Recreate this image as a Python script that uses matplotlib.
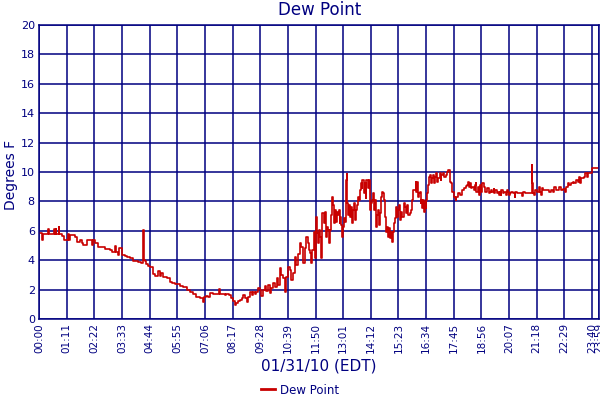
import matplotlib
matplotlib.use("Agg")
import matplotlib.pyplot as plt
from matplotlib.lines import Line2D

# time of day in minutes after midnight, dew point in degrees F
minutes = [
    0, 7, 10, 23, 24, 25, 38, 39, 42, 43, 44, 50, 51, 52, 58, 65, 71, 75, 76, 80, 84, 92, 97, 101, 105,
    110, 114, 120, 122, 133, 135, 139, 144, 148, 152, 156, 165, 169, 182, 188, 195, 199, 203, 206,
    210, 214, 221, 227, 233, 242, 255, 263, 267, 268, 270, 272, 276, 280, 285, 293, 298, 306, 310,
    314, 319, 323, 328, 336, 342, 349, 362, 370, 379, 387, 396, 404, 413, 420, 423, 430, 434, 439,
    447, 460, 462, 464, 469, 477, 481, 488, 492, 498, 503, 507, 511, 516, 520, 524, 528, 533, 537,
    541, 546, 550, 554, 558, 562, 567, 571, 575, 580, 584, 588, 592, 597, 601, 605, 610, 614, 618,
    622, 627, 631, 635, 639, 644, 648, 652, 657, 661, 665,
    669.5, 673.8, 678, 682.3, 684.9, 686.6, 690.9, 693.4, 695.2, 699.4, 702, 705.4, 708, 710.5, 712.3,
    714.8, 716.5, 719, 722.5, 725, 727.6, 731, 733.6, 736.2, 739.6, 742.2, 744.7, 746.5, 750.7, 753.3,
    755, 757.6, 759.3, 761.8, 765.3, 767.8, 770.4, 772.1, 773.8, 776.4, 778.9, 780.7, 782.4, 784.9,
    787.5, 790, 791.8, 794.3, 796, 799.5, 802, 804.6, 806.3, 808.9, 810.6, 813.1, 816.6, 819.1, 821.7,
    823.4, 826, 828.5, 830.2, 833.7, 836.2, 838.8, 840.5, 844.8, 847.3, 850.8, 853.3, 855.9, 857.6,
    859.3, 861.9, 864.4, 867.9, 870.4, 873, 876.4, 879, 881.5, 883.3, 885.8, 887.5, 890.1, 891.8,
    893.5, 896.1, 898.6, 902, 904.6, 907.2, 908.9, 911.5, 913.2, 915.7, 919.2, 921.7, 924.3, 927.7,
    930.3, 932.8, 936.3, 938.8, 941.4, 944.8, 947.4,
    951.6, 955.9, 958.4, 960.2, 964.4, 967, 968.7, 970.4, 973, 975.5, 977.3, 979.8, 981.5, 984.1,
    985.8, 987.5, 990, 992.6, 994.4, 996, 998.6, 1001.2, 1002.9, 1005.5, 1008, 1011.4, 1013.2, 1015.7,
    1018.3, 1021.7, 1024.3, 1028.6, 1031.1, 1032.8, 1037.1, 1039.7, 1044, 1047.4, 1049.9, 1054.2,
    1055.9, 1058.5, 1061, 1064.5, 1067, 1069.6, 1071.3, 1075.6, 1079.9, 1084.1, 1086.7, 1090.1,
    1095.2, 1098.7, 1101.2, 1103.8, 1107.2, 1109.8, 1112.3, 1115.8, 1118.3, 1120.9, 1122.6, 1126.9,
    1129.4, 1131.2, 1135.4, 1138, 1141.4, 1144, 1146.5, 1150, 1155.1, 1158.5, 1161.1, 1163.6, 1167.1,
    1169.6, 1172.2, 1175.6, 1178.2, 1180.7,
    1182.5, 1185.1, 1187.6, 1191, 1195.3, 1197.9, 1201.3, 1203.9, 1206.4, 1209.9, 1212.4, 1216.7,
    1221, 1223.5, 1227, 1232.1, 1235.5, 1240.6, 1244.1, 1249.2, 1255.2, 1259.5, 1263.7, 1265.4,
    1267.1, 1268, 1272.3, 1274.8, 1278.3, 1283.4, 1286.8, 1289.4, 1291.9, 1295.4, 1302.2, 1309,
    1315, 1319.3, 1321.9, 1327.9, 1334.7, 1340.7, 1346.7, 1350.1, 1353.5, 1357.8, 1362, 1366.3,
    1370.6, 1374.9, 1379.2, 1383.4, 1386, 1389.4, 1392, 1396.3, 1400.5, 1403.1, 1406.5, 1409.1,
    1417.6, 1420.2, 1439,
]
dew_point = [
    5.85, 5.4, 5.75, 5.75, 6.15, 5.75, 5.75, 6.15, 5.75, 6.15, 5.75, 5.75, 6.25, 5.75, 5.65, 5.35, 5.35, 5.75, 5.35, 5.7, 5.7, 5.6, 5.25, 5.25, 5.4,
    5.15, 5.05, 5.05, 5.4, 5.4, 5.05, 5.4, 5.15, 5.15, 4.92, 4.87, 4.87, 4.76, 4.69, 4.58, 4.97, 4.58, 4.35, 4.8,
    4.8, 4.35, 4.31, 4.24, 4.13, 3.97, 3.9, 3.83, 3.83, 6.05, 4.01, 3.97, 3.74, 3.63, 3.51, 3.04, 2.95, 3.26, 2.95,
    3.1, 2.88, 2.85, 2.77, 2.54, 2.43, 2.36, 2.24, 2.2, 1.97, 1.81, 1.68, 1.52, 1.41, 1.18, 1.52, 1.59, 1.52, 1.75,
    1.7, 1.7, 2.02, 1.7, 1.7, 1.63, 1.68, 1.63, 1.41, 1.22, 0.95, 1.06, 1.22, 1.29, 1.41, 1.63, 1.41, 1.13, 1.52,
    1.86, 1.63, 1.81, 1.68, 1.86, 2.13, 1.97, 1.59, 1.97, 2.27, 1.9, 2.31, 1.75, 2.09, 2.43, 2.2, 2.77, 2.31, 3.45,
    2.99, 2.77, 1.81, 2.88, 3.56, 3.33, 2.65, 3.11, 4.24, 3.67, 4.4,
    5.15, 4.92, 3.79, 4.81, 5.37, 5.6, 5.15, 4.69, 4.47, 3.79, 4.69, 5.94, 4.13, 6.28, 6.96,
    5.83, 5.15, 6.05, 5.6, 4.13, 7.19, 6.51, 7.3, 5.6, 6.28, 6.05, 5.15, 6.05, 7.07, 8.32,
    7.75, 6.51, 7.41, 6.62, 7.3, 7.07, 7.41, 6.51, 6.96, 6.39, 5.6, 6.28, 6.85, 6.62,
    9.46, 9.86, 7.87, 7.07, 7.75, 6.96, 7.64, 6.51, 7.41, 7.87, 6.73, 7.41, 7.75, 8.32, 8.09,
    8.77, 9.23, 8.89, 9.46, 8.55, 9.23, 8.21, 9.46, 8.89, 9.46, 7.41, 7.87, 8.09, 8.55,
    7.41, 8.09, 6.28, 7.07, 7.41, 6.39, 7.19, 8.32, 8.66, 8.55, 8.09, 6.96, 6.28, 5.94,
    6.28, 5.6, 6.17, 5.49, 5.94, 5.26, 5.94, 6.51, 6.85, 7.64, 6.96, 7.41, 7.75, 6.73,
    7.3, 6.96, 7.87, 7.64, 7.19, 7.75, 7.07,
    7.19, 7.41, 8.09, 8.77, 8.77, 9.34, 8.66, 9.34, 8.32, 8.55, 8.66, 7.87, 8.09, 7.53,
    8.09, 7.3, 7.98, 7.53, 8.09, 8.55, 9.12, 9.68, 9.8, 9.23, 9.57, 9.8, 9.23, 9.68,
    9.91, 9.34, 9.57, 9.91, 9.46, 9.8, 9.91, 9.68, 9.8, 10.02, 10.14, 10.02,
    9.34, 9.23, 8.66, 8.32, 8.21, 8.09, 8.32, 8.55, 8.44, 8.44, 8.77, 8.89,
    9.05, 9.12, 9.34, 9.0, 9.23, 8.89, 9.0, 8.77, 9.12, 9.23, 8.66, 9.0,
    8.44, 9.12, 8.66, 9.23, 9.0, 8.89, 8.66, 8.89, 8.55, 8.66, 8.77, 8.66, 8.82,
    8.55, 8.77, 8.55, 8.66, 8.44,
    8.66, 8.44, 8.77, 8.55, 8.66, 8.44, 8.77, 8.66, 8.44, 8.55, 8.66, 8.55,
    8.32, 8.66, 8.55, 8.59, 8.55, 8.37, 8.66, 8.55, 8.55, 8.55, 8.55, 10.48,
    9.23, 8.55, 8.44, 8.77, 8.66, 9.0, 8.66, 8.44, 8.89, 8.77, 8.77, 8.66,
    8.77, 8.66, 9.0, 8.77, 9.0, 8.77, 8.82, 8.66, 9.0, 9.23, 9.12, 9.23,
    9.34, 9.23, 9.46, 9.34, 9.68, 9.23, 9.57, 9.57, 9.68, 9.95, 9.68, 9.95,
    9.95, 10.25, 10.25,
]

tick_minutes = [0, 71, 142, 213, 284, 355, 426, 497, 568, 639, 710, 781, 852, 923,
                994, 1065, 1136, 1207, 1278, 1349, 1420, 1439]
tick_labels = ["00:00", "01:11", "02:22", "03:33", "04:44", "05:55", "07:06", "08:17",
               "09:28", "10:39", "11:50", "13:01", "14:12", "15:23", "16:34", "17:45",
               "18:56", "20:07", "21:18", "22:29", "23:40", "23:59"]
y_ticks = [0, 2, 4, 6, 8, 10, 12, 14, 16, 18, 20]

NAVY = "#000080"
LINE = "#c80000"

fig = plt.figure(figsize=(6, 4), dpi=100)
ax = fig.add_axes([0.065, 0.2025, 0.934, 0.735])

ax.plot(minutes, dew_point, color=LINE, linewidth=1.2, drawstyle="steps-post")

ax.set_xlim(0, 1439)
ax.set_ylim(0, 20)
ax.set_xticks(tick_minutes)
ax.set_xticklabels(tick_labels, rotation=90, fontsize=7.5, color=NAVY)
ax.set_yticks(y_ticks)
ax.set_yticklabels([str(v) for v in y_ticks], fontsize=8, color=NAVY)
ax.tick_params(axis="both", length=0, pad=3)
ax.grid(True, color=NAVY, linewidth=1.1)
ax.set_axisbelow(True)
for s in ax.spines.values():
    s.set_color(NAVY)
    s.set_linewidth(1.1)

fig.text(0.018, 0.5625, "Degrees F", rotation=90, ha="center", va="center",
         fontsize=10, color=NAVY)
fig.text(0.532, 0.975, "Dew Point", ha="center", va="center", fontsize=12, color=NAVY)
fig.text(0.532, 0.085, "01/31/10 (EDT)", ha="center", va="center", fontsize=11, color=NAVY)

handle = Line2D([0], [0], color=LINE, linewidth=2)
fig.legend([handle], ["Dew Point"], loc="center", bbox_to_anchor=(0.5, 0.025),
           frameon=False, fontsize=8.5, handlelength=1.2, handletextpad=0.4,
           labelcolor=NAVY)

fig.savefig("out.png", dpi=100)
